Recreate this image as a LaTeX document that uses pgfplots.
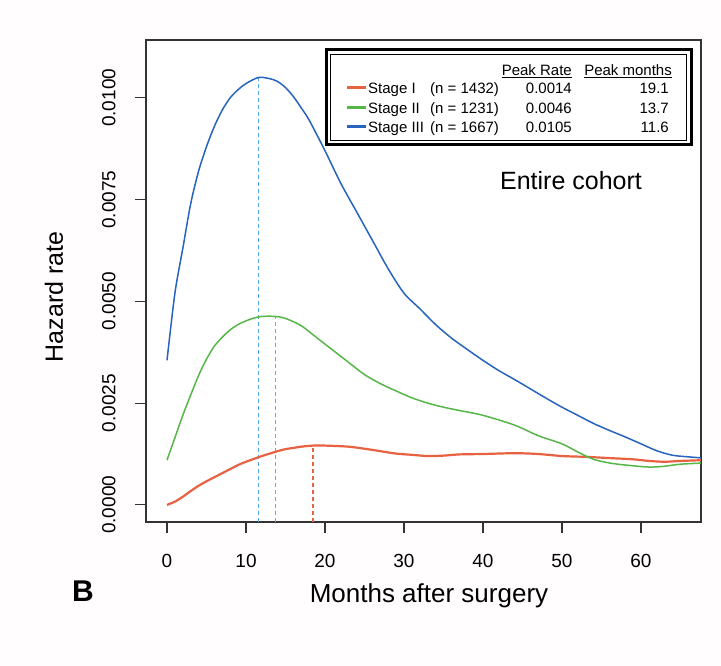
\documentclass[border=0pt]{standalone}
\usepackage{fontspec}
\setmainfont{Liberation Sans}
\usepackage{pgfplots}
\pgfplotsset{compat=1.18}
\definecolor{cRed}{RGB}{232,98,66}
\definecolor{cGreen}{RGB}{86,182,72}
\definecolor{cBlue}{RGB}{40,100,190}
\definecolor{dBlue}{RGB}{80,170,230}
\definecolor{dGreen}{RGB}{130,190,50}
\definecolor{dRed}{RGB}{230,100,70}
\begin{document}
\begin{tikzpicture}[x=1pt,y=1pt]
\fill[white!98!red!30] (-146,-144) rectangle (575,522);
\useasboundingbox (-146,-144) rectangle (575,522);
\begin{axis}[
  at={(0,0)}, anchor=south west,
  scale only axis, width=555pt, height=482pt,
  xmin=-2.66, xmax=67.6, ymin=-0.00042, ymax=0.01142,
  axis background/.style={fill=white},
  axis line style={line width=1.2pt, black!80},
  xtick={0,10,...,60},
  ytick={0,0.0025,0.005,0.0075,0.01},
  tick align=outside, major tick length=11pt,
  tick style={line width=1.2pt, black!80},
  xtick pos=bottom, ytick pos=left,
  /pgf/number format/assume math mode=true,
  ticklabel style={font=\fontsize{19}{22}\selectfont},
  yticklabel style={rotate=90, anchor=south, yshift=16pt, /pgf/number format/fixed, /pgf/number format/precision=4, /pgf/number format/zerofill},
  scaled y ticks=false,
  xticklabel style={yshift=-18pt},
  clip=true,
]
% dashed peak markers
\addplot[dBlue, line width=1.4pt, dash pattern=on 4pt off 3pt] coordinates {(11.6,-0.00042) (11.6,0.0105)};
\addplot[dGreen, line width=1.4pt, dash pattern=on 4pt off 3pt] coordinates {(13.7,-0.00042) (13.7,0.00462)};
\addplot[dRed, line width=1.6pt, dash pattern=on 4pt off 3pt] coordinates {(18.5,-0.00042) (18.5,0.00145)};
% Stage I
\addplot[cRed, line width=2.2pt, smooth] coordinates {
(0,0.0000) (1,0.00008) (2,0.0002) (3,0.00034) (4,0.00047) (5,0.00058) (6,0.00068) (7,0.00078)
(8,0.00088) (9,0.00098) (10,0.00106) (11,0.00113) (12,0.0012) (13,0.00126) (14,0.00132)
(15,0.00137) (16,0.0014) (17,0.00143) (18,0.00145) (19.1,0.00146) (21,0.00145) (23,0.00143)
(25,0.00138) (27,0.00132) (29,0.00126) (31,0.00123) (33,0.0012) (35,0.00121) (37,0.00124)
(40,0.00125) (44,0.00127) (47,0.00125) (50,0.0012) (53,0.00118) (56,0.00115) (59,0.00112)
(61,0.00108) (63,0.00106) (65,0.00108) (68,0.0011)};
% Stage II
\addplot[cGreen, line width=1.5pt, smooth] coordinates {
(0,0.0011) (1,0.00165) (2,0.0022) (3,0.0027) (4,0.00318) (5,0.00358) (6,0.0039) (7,0.00412)
(8,0.0043) (9,0.00443) (10,0.00452) (11,0.00459) (12,0.00463) (13.7,0.00463) (15,0.00458)
(17,0.0044) (19,0.0041) (21,0.0038) (23,0.0035) (25,0.0032) (27,0.00298) (29,0.0028)
(31,0.00263) (33,0.0025) (35,0.0024) (37,0.00232) (40,0.0022) (44,0.00196) (47,0.0017)
(50,0.0015) (52,0.0013) (54,0.00112) (56,0.00103) (58,0.00098) (61,0.00093) (63,0.00095)
(65,0.001) (68,0.00103)};
% Stage III
\addplot[cBlue, line width=1.5pt, smooth] coordinates {
(0,0.00355) (1,0.0052) (2,0.0063) (3,0.0074) (4,0.0082) (5,0.0088) (6,0.0093) (7,0.0097)
(8,0.0100) (9,0.0102) (10,0.01035) (11.6,0.0105) (13,0.01047) (14,0.0104) (15,0.01025)
(16,0.01003) (17,0.00975) (18,0.00945) (20,0.0087) (22,0.0079) (24,0.0072) (26,0.0065)
(28,0.0058) (30,0.0052) (32,0.00482) (34,0.00443) (36,0.0041) (38,0.00382) (40,0.00355)
(42,0.0033) (44,0.00308) (46,0.00285) (48,0.00262) (50,0.0024) (52,0.0022) (54,0.002)
(56,0.00183) (58,0.00167) (60,0.0015) (62,0.00133) (64,0.00122) (66,0.00118) (68,0.00115)};
\end{axis}
% legend box
\fill[white] (180,377) rectangle (545,472);
\draw[black, line width=3pt] (180,377) rectangle (545,472);
\draw[black, line width=0.8pt] (184.5,381.5) rectangle (540.5,467.5);
\begin{scope}[every node/.style={font=\fontsize{15}{18}\selectfont, inner sep=0pt}]
\node[anchor=base east] at (426,446.5) {\underline{Peak Rate}};
\node[anchor=base east] at (526,446.5) {\underline{Peak months}};
\draw[cRed, line width=3pt] (201,434) -- (220,434);
\draw[cGreen, line width=3pt] (201,414) -- (220,414);
\draw[cBlue, line width=3pt] (201,395) -- (220,395);
\node[anchor=base west] at (222,428.5) {Stage I};
\node[anchor=base west] at (222,408.5) {Stage II};
\node[anchor=base west] at (222,389.5) {Stage III};
\node[anchor=base west] at (284,428.5) {(n = 1432)};
\node[anchor=base west] at (284,408.5) {(n = 1231)};
\node[anchor=base west] at (284,389.5) {(n = 1667)};
\node[anchor=base east] at (426,428.5) {0.0014};
\node[anchor=base east] at (426,408.5) {0.0046};
\node[anchor=base east] at (426,389.5) {0.0105};
\node[anchor=base east] at (523,428.5) {19.1};
\node[anchor=base east] at (523,408.5) {13.7};
\node[anchor=base east] at (523,389.5) {11.6};
\end{scope}
% texts
\node[anchor=base, inner sep=0pt, font=\fontsize{25}{30}\selectfont] at (425,332) {Entire cohort};
\node[anchor=base, inner sep=0pt, font=\fontsize{26}{30}\selectfont] at (283,-81) {Months after surgery};
\node[rotate=90, inner sep=0pt, font=\fontsize{25}{30}\selectfont] at (-92,225) {Hazard rate};
\node[anchor=base west, inner sep=0pt, font=\bfseries\fontsize{30}{34}\selectfont] at (-74,-80) {B};
\end{tikzpicture}
\end{document}
